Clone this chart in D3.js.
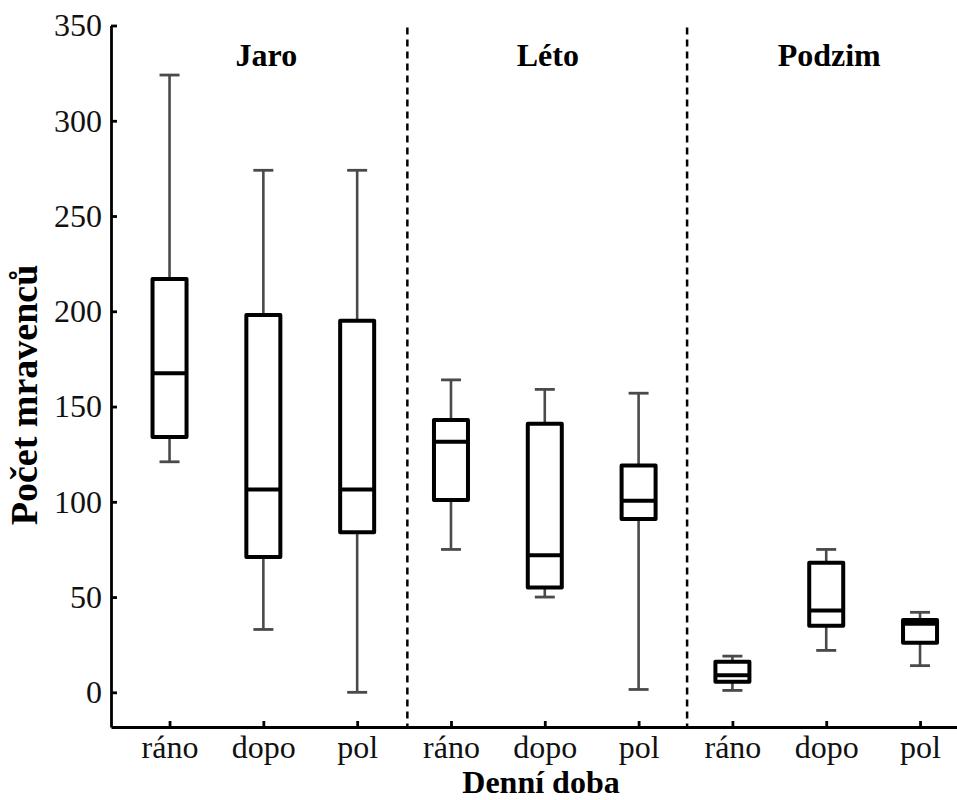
<!DOCTYPE html>
<html>
<head>
<meta charset="utf-8">
<script src="https://cdn.jsdelivr.net/npm/d3@7"></script>
<style>
  body { margin: 0; background: #fff; }
  svg { display: block; font-family: "Liberation Serif", "Times New Roman", serif; }
</style>
</head>
<body>
<svg id="chart" width="957" height="800"></svg>
<script>
// Seasons and times of day (Czech labels from the original figure)
const seasons = ["Jaro", "Léto", "Podzim"];
const times = ["ráno", "dopo", "pol"];
const categories = seasons.flatMap(s => times.map(t => `${s} ${t}`));
const tickLabels = seasons.flatMap(() => times);

// Box plot stats, one value per category
const whiskerLow  = [121, 33, 0, 75, 50, 1.5, 1, 22, 14];
const q1          = [134, 71, 84, 101, 55, 91, 5.5, 35, 26];
const median      = [167.5, 106.5, 106.5, 131.5, 72, 100.5, 9, 43, 36];
const q3          = [217, 198, 195, 143, 141, 119, 16, 68, 38];
const whiskerHigh = [324, 274, 274, 164, 159, 157, 19, 75, 42];

const yTicks = [0, 50, 100, 150, 200, 250, 300, 350];

const svg = d3.select("#chart");
const font_family = '"Liberation Serif", "Times New Roman", serif';

// Scales: x runs on category index, plot is cropped on the right
const x = d3.scaleLinear().domain([-0.624, 8.394]).range([111, 957]);
const y = d3.scaleLinear().domain([-18.2, 350]).range([727, 25.5]);

const boxW = 34, capW = 20;

const data = categories.map((c, i) => ({
  key: c, i,
  lo: whiskerLow[i], q1: q1[i], med: median[i], q3: q3[i], hi: whiskerHigh[i]
}));

// Dashed separators between seasons
const separators = [2.535, 5.517];
svg.selectAll(".sep")
  .data(separators)
  .join("line")
  .attr("class", "sep")
  .attr("x1", d => x(d)).attr("x2", d => x(d))
  .attr("y1", y(350) + 2).attr("y2", y(-18.2))
  .attr("stroke", "#000")
  .attr("stroke-width", 2.5)
  .attr("stroke-dasharray", "7,5");

// Whiskers
const g = svg.append("g");
const box = g.selectAll(".box")
  .data(data)
  .join("g")
  .attr("class", "box");

box.append("line")
  .attr("x1", d => x(d.i)).attr("x2", d => x(d.i))
  .attr("y1", d => y(d.hi)).attr("y2", d => y(d.q3))
  .attr("stroke", "#4a4a4a").attr("stroke-width", 2.6);
box.append("line")
  .attr("x1", d => x(d.i)).attr("x2", d => x(d.i))
  .attr("y1", d => y(d.q1)).attr("y2", d => y(d.lo))
  .attr("stroke", "#4a4a4a").attr("stroke-width", 2.6);
box.append("line")
  .attr("x1", d => x(d.i) - capW / 2).attr("x2", d => x(d.i) + capW / 2)
  .attr("y1", d => y(d.hi)).attr("y2", d => y(d.hi))
  .attr("stroke", "#4a4a4a").attr("stroke-width", 2.8);
box.append("line")
  .attr("x1", d => x(d.i) - capW / 2).attr("x2", d => x(d.i) + capW / 2)
  .attr("y1", d => y(d.lo)).attr("y2", d => y(d.lo))
  .attr("stroke", "#4a4a4a").attr("stroke-width", 2.8);

// Boxes and medians
box.append("rect")
  .attr("x", d => x(d.i) - boxW / 2)
  .attr("width", boxW)
  .attr("y", d => y(d.q3))
  .attr("height", d => y(d.q1) - y(d.q3))
  .attr("fill", "#fff")
  .attr("stroke", "#000")
  .attr("stroke-width", 4)
  .attr("stroke-linejoin", "round");
box.append("line")
  .attr("x1", d => x(d.i) - boxW / 2).attr("x2", d => x(d.i) + boxW / 2)
  .attr("y1", d => y(d.med)).attr("y2", d => y(d.med))
  .attr("stroke", "#000").attr("stroke-width", 4);

// Axes
const xAxis = svg.append("g")
  .attr("transform", `translate(0,${y(-18.2)})`)
  .call(d3.axisBottom(x)
    .tickValues(d3.range(categories.length))
    .tickFormat(i => tickLabels[i])
    .tickSize(-6).tickSizeOuter(0).tickPadding(8));

const yAxis = svg.append("g")
  .attr("transform", `translate(${x(-0.624)},0)`)
  .call(d3.axisLeft(y)
    .tickValues(yTicks)
    .tickSize(-6).tickSizeOuter(0).tickPadding(9));

[xAxis, yAxis].forEach(ax => {
  ax.select(".domain").attr("stroke", "#000").attr("stroke-width", 2.8);
  ax.selectAll(".tick line").attr("stroke", "#000").attr("stroke-width", 2.8);
  ax.selectAll(".tick text")
    .attr("fill", "#111")
    .style("font-family", font_family)
    .style("font-size", "32px");
});

// Season titles
svg.selectAll(".season")
  .data(seasons)
  .join("text")
  .attr("class", "season")
  .attr("x", (d, i) => x(i * 3 + 1) + 3)
  .attr("y", 66)
  .attr("text-anchor", "middle")
  .style("font-family", font_family)
  .style("font-weight", "bold")
  .style("font-size", "32px")
  .text(d => d);

// Axis titles
svg.append("text")
  .attr("x", 541)
  .attr("y", 793)
  .attr("text-anchor", "middle")
  .style("font-family", font_family)
  .style("font-weight", "bold")
  .style("font-size", "32px")
  .text("Denní doba");

svg.append("text")
  .attr("transform", `translate(37,${395}) rotate(-90)`)
  .attr("text-anchor", "middle")
  .style("font-family", font_family)
  .style("font-weight", "bold")
  .style("font-size", "38px")
  .text("Počet mravenců");
</script>
</body>
</html>
